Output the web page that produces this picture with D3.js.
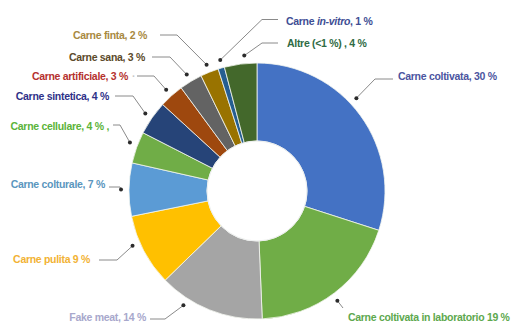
<!DOCTYPE html>
<html>
<head>
<meta charset="utf-8">
<script src="https://cdn.jsdelivr.net/npm/d3@7"></script>
<style>
  html, body { margin: 0; padding: 0; background: #fff; }
  svg { display: block; }
  text { font-family: "Liberation Sans", Arial, Helvetica, sans-serif; font-weight: bold; font-size: 10.5px; letter-spacing: -0.3px; }
</style>
</head>
<body>
<svg id="chart" width="518" height="335"></svg>
<script>
// ---- data ----
const categories = [
  "Carne coltivata", "Carne coltivata in laboratorio", "Fake meat", "Carne pulita",
  "Carne colturale", "Carne cellulare", "Carne sintetica", "Carne artificiale",
  "Carne sana", "Carne finta", "Carne in-vitro", "Altre (<1 %)"
];
const shares = [30, 19.4, 13.4, 9.1, 6.7, 4.0, 4.3, 3.1, 2.9, 2.3, 0.8, 4.1];
const labelTexts = [
  "Carne coltivata, 30 %", "Carne coltivata in laboratorio 19 %", "Fake meat, 14 %",
  "Carne pulita 9 %", "Carne colturale, 7 %", "Carne cellulare, 4 % ,",
  "Carne sintetica, 4 %", "Carne artificiale, 3 %", "Carne sana, 3 %",
  "Carne finta, 2 %", "Carne in-vitro, 1 %", "Altre (<1 %) , 4 %"
];

// ---- styles ----
const sliceColors = ["#4472C4", "#70AD47", "#A5A5A5", "#FFC000", "#5B9BD5", "#70AD47",
                     "#264478", "#9E480E", "#636363", "#997300", "#255E91", "#43682B"];
const labelColors = ["#4B55A0", "#5DA84E", "#A8A8CC", "#F2B233", "#5A96BE", "#5BB33A",
                     "#2E3188", "#B5312E", "#5B4A2A", "#A8893F", "#3E4E94", "#2F6B45"];

// ---- layout (label placement) ----
// tx,ty: text anchor point; anchor; ex,ey: leader end near text; kx,ky: elbow; da: dot angle shift (deg)
const labelLayout = [
  {tx: 398, ty: 80, anchor: "start", ex: 393, ey: 79, kx: 375, ky: 79, da: -7},
  {tx: 348, ty: 321, anchor: "start", ex: 343, ey: 308, kx: 343, ky: 308, da: 1},
  {tx: 146, ty: 321, anchor: "end", ex: 150, ey: 319, kx: 165, ky: 319, da: 11},
  {tx: 90, ty: 263, anchor: "end", ex: 99, ey: 260, kx: 117, ky: 260, da: 4},
  {tx: 105, ty: 188, anchor: "end", ex: 109, ey: 187, kx: 120, ky: 187, da: 0},
  {tx: 109, ty: 130, anchor: "end", ex: 113, ey: 125, kx: 120, ky: 125, da: 1},
  {tx: 109, ty: 100, anchor: "end", ex: 115, ey: 96, kx: 133, ky: 96, da: 0},
  {tx: 128, ty: 80, anchor: "end", ex: 137, ey: 76, kx: 154, ky: 76, da: 0},
  {tx: 145, ty: 61, anchor: "end", ex: 152, ey: 57, kx: 170, ky: 57, da: 0},
  {tx: 147, ty: 39, anchor: "end", ex: 160, ey: 35, kx: 177, ky: 35, da: 0},
  {tx: 286, ty: 25, anchor: "start", ex: 278, ey: 19.5, kx: 262, ky: 19.5, da: 0.5},
  {tx: 287, ty: 47, anchor: "start", ex: 278, ey: 43, kx: 262, ky: 43, da: 2}
];

const cx = 257, cy = 191, outerR = 128, innerR = 50, dotR = 136;

const svg = d3.select("#chart");
const g = svg.append("g").attr("transform", `translate(${cx},${cy})`);

const pie = d3.pie().sort(null).value(d => d.v);
const data = categories.map((c, i) => ({c, v: shares[i], i}));
const arcs = pie(data);
const arc = d3.arc().innerRadius(innerR).outerRadius(outerR);

g.selectAll("path.slice")
  .data(arcs)
  .enter().append("path")
  .attr("class", "slice")
  .attr("d", arc)
  .attr("fill", d => sliceColors[d.data.i])
  .attr("stroke", "#f4f6f0")
  .attr("stroke-width", 0.8);

g.append("circle").attr("r", innerR).attr("fill", "none")
  .attr("stroke", "#eef0f0").attr("stroke-width", 1);

// leaders and labels
const lines = svg.append("g");
arcs.forEach(d => {
  const L = labelLayout[d.data.i];
  const a = (d.startAngle + d.endAngle) / 2 + L.da * Math.PI / 180;
  const dx = cx + dotR * Math.sin(a), dy = cy - dotR * Math.cos(a);
  lines.append("polyline")
    .attr("points", `${dx},${dy} ${L.kx},${L.ky} ${L.ex},${L.ey}`)
    .attr("fill", "none").attr("stroke", "#8a8a8a").attr("stroke-width", 1);
  lines.append("circle").attr("cx", dx).attr("cy", dy).attr("r", 2).attr("fill", "#2b2b2b");

  const t = svg.append("text")
    .attr("x", L.tx).attr("y", L.ty)
    .attr("text-anchor", L.anchor)
    .attr("fill", labelColors[d.data.i]);
  const txt = labelTexts[d.data.i];
  if (txt.indexOf("in-vitro") >= 0) {
    t.append("tspan").text("Carne ");
    t.append("tspan").attr("font-style", "italic").text("in-vitro");
    t.append("tspan").text(", 1 %");
  } else {
    t.text(txt);
  }
  if (d.data.i === 7) {
    svg.append("text").attr("x", L.tx + 4).attr("y", L.ty)
      .attr("fill", "#c8c8c8").attr("font-weight", "normal").text("·");
  }
});
</script>
</body>
</html>
